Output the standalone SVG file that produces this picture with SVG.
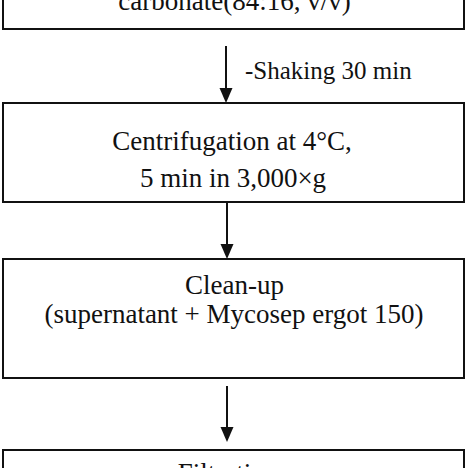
<svg xmlns="http://www.w3.org/2000/svg" width="468" height="468" viewBox="0 0 468 468">
<style>
.box{fill:#fff;stroke:#111;stroke-width:2}
.t{font-family:"Liberation Serif","Times New Roman",serif;font-size:27px;fill:#111;text-anchor:middle}
.lbl{font-family:"Liberation Serif","Times New Roman",serif;font-size:25px;fill:#111}
.con{stroke:#111;stroke-width:2;fill:none}
.head{fill:#111}
</style>
<rect width="468" height="468" fill="#fff"/>
<g id="connectors">
<line class="con" x1="226" y1="46" x2="226" y2="90"/>
<polygon class="head" points="226,103 219.5,88 232.5,88"/>
<text class="lbl" x="245" y="79">-Shaking 30 min</text>
<line class="con" x1="227" y1="202" x2="227" y2="246"/>
<polygon class="head" points="227,259 220.5,244 233.5,244"/>
<line class="con" x1="227" y1="386" x2="227" y2="429"/>
<polygon class="head" points="227,442 220.5,427 233.5,427"/>
</g>
<g id="node1">
<rect class="box" x="3" y="-20" width="461" height="49"/>
<text class="t" x="234.5" y="10">carbonate(84:16, v/v)</text>
</g>
<g id="node2">
<rect class="box" x="3" y="103" width="461" height="99"/>
<text class="t" x="232" y="150">Centrifugation at 4°C,</text>
<text class="t" x="233" y="187">5 min in 3,000×g</text>
</g>
<g id="node3">
<rect class="box" x="3" y="259" width="461" height="119"/>
<text class="t" x="234.5" y="294">Clean-up</text>
<text class="t" x="234" y="323">(supernatant + Mycosep ergot 150)</text>
</g>
<g id="node4">
<rect class="box" x="3" y="450" width="461" height="40"/>
<text class="t" x="228" y="482">Filtration</text>
</g>
</svg>
